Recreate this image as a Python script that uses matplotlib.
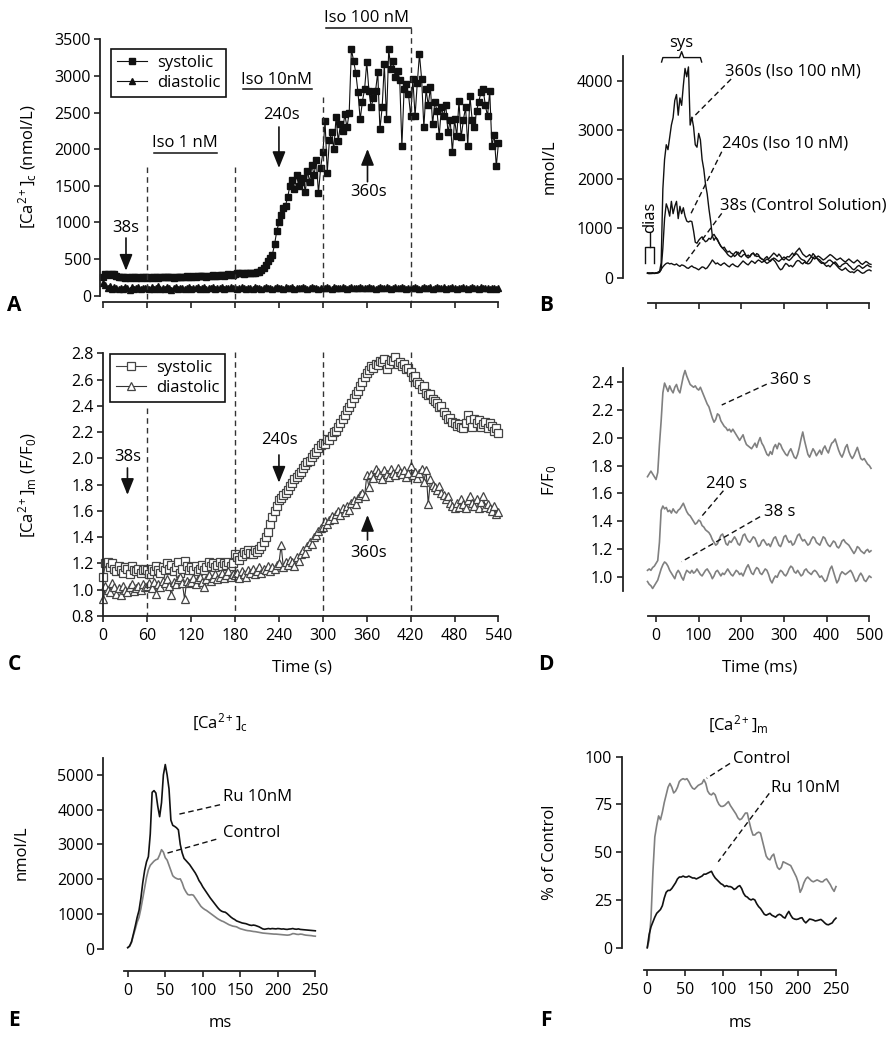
import numpy as np
import matplotlib
matplotlib.use('Agg')
import matplotlib.pyplot as plt

plt.rcParams['font.family'] = ['Open Sans', 'DejaVu Sans']
plt.rcParams['mathtext.fontset'] = 'custom'
plt.rcParams['mathtext.rm'] = 'Open Sans'
plt.rcParams['mathtext.it'] = 'Open Sans:italic'
plt.rcParams['font.size'] = 12

# ---- A: cytosolic Ca, systolic / diastolic, one value every 3 s ----
a_sys = [250, 300, 290, 280, 300, 290, 270, 260, 250, 260, 245, 250, 240, 255, 250, 240, 250, 245, 255, 250,
         245, 250, 240, 255, 250, 245, 250, 255, 250, 260, 250, 255, 245, 260, 255, 250, 260, 255, 265, 260,
         255, 265, 260, 270, 265, 275, 270, 260, 275, 270, 280, 275, 270, 280, 285, 275, 280, 290, 280, 285,
         300, 310, 305, 310, 300, 310, 305, 315, 310, 305, 320, 330, 350, 380, 420, 470, 520, 560, 700, 880,
         1000, 1100, 1200, 1230, 1350, 1500, 1580, 1450, 1650, 1500, 1550, 1600, 1420, 1700, 1550, 1780, 1650, 1850, 1400, 1750,
         1955, 2380, 1680, 2130, 2228, 2000, 2433, 2110, 2338, 2250, 2474, 2297, 2500, 3363, 3204, 3044, 2775, 2406, 2650, 2816,
         3185, 2793, 2570, 2700, 2793, 3049, 2270, 2570, 3158, 2406, 3363, 3090, 3200, 2980, 3067, 2950, 2042, 2816, 2884, 2750,
         2451, 2953, 2451, 2900, 3294, 2953, 2297, 2816, 2600, 2843, 2338, 2650, 2520, 2178, 2570, 2451, 2600, 2228, 2400, 1955,
         2406, 2178, 2657, 2160, 2400, 2570, 2042, 2725, 2400, 2297, 2520, 2650, 2775, 2816, 2600, 2451, 2793, 2042, 2200, 1768, 2091]
a_dia = [180, 150, 110, 130, 90, 120, 100, 85, 110, 95, 120, 100, 80, 115, 95, 105, 120, 90, 100, 110,
         100, 85, 120, 95, 110, 130, 90, 105, 95, 115, 100, 80, 110, 120, 95, 100, 110, 85, 105, 115,
         95, 110, 100, 120, 90, 105, 115, 95, 100, 110, 120, 95, 105, 100, 115, 90, 110, 100, 120, 105,
         110, 95, 105, 120, 100, 90, 110, 105, 95, 115, 100, 110, 95, 105, 120, 100, 110, 90, 105, 115,
         100, 110, 95, 120, 105, 100, 115, 95, 110, 105, 100, 120, 110, 95, 105, 115, 100, 110, 95, 105,
         110, 100, 120, 105, 95, 115, 110, 100, 105, 120, 110, 95, 105, 115, 100, 110, 105, 125, 100, 110,
         105, 115, 100, 110, 95, 105, 120, 110, 100, 115, 105, 95, 110, 120, 105, 100, 115, 110, 95, 105,
         110, 100, 115, 105, 95, 110, 120, 100, 105, 115, 95, 110, 125, 100, 105, 115, 95, 110, 100, 120,
         105, 95, 110, 100, 115, 105, 95, 110, 120, 100, 105, 95, 115, 100, 110, 105, 90, 110, 100, 95, 105]

# ---- C: mitochondrial Ca (F/F0), one value every 3 s ----
c_sys = [1.10, 1.20, 1.21, 1.17, 1.20, 1.16, 1.14, 1.18, 1.15, 1.13, 1.17, 1.16, 1.12, 1.18, 1.15, 1.14, 1.16, 1.13, 1.15, 1.16,
         1.15, 1.12, 1.16, 1.14, 1.18, 1.15, 1.13, 1.17, 1.15, 1.20, 1.16, 1.19, 1.14, 1.17, 1.21, 1.13, 1.16, 1.22, 1.18, 1.15,
         1.17, 1.15, 1.18, 1.14, 1.16, 1.19, 1.15, 1.17, 1.21, 1.18, 1.20, 1.17, 1.19, 1.21, 1.18, 1.20, 1.19, 1.21, 1.18, 1.20,
         1.27, 1.25, 1.23, 1.26, 1.29, 1.27, 1.30, 1.28, 1.27, 1.30, 1.29, 1.31, 1.33, 1.36, 1.40, 1.44, 1.50, 1.55, 1.60, 1.64,
         1.68, 1.70, 1.72, 1.74, 1.76, 1.79, 1.81, 1.84, 1.86, 1.88, 1.90, 1.93, 1.95, 1.97, 1.98, 2.01, 2.03, 2.05, 2.08, 2.10,
         2.12, 2.11, 2.15, 2.14, 2.17, 2.20, 2.21, 2.24, 2.27, 2.30, 2.33, 2.37, 2.39, 2.42, 2.46, 2.49, 2.51, 2.55, 2.58, 2.62,
         2.65, 2.67, 2.70, 2.69, 2.72, 2.71, 2.74, 2.73, 2.76, 2.68, 2.72, 2.75, 2.74, 2.77, 2.72, 2.73, 2.70, 2.72, 2.68, 2.69,
         2.66, 2.62, 2.63, 2.58, 2.57, 2.53, 2.55, 2.50, 2.48, 2.49, 2.45, 2.44, 2.42, 2.39, 2.40, 2.35, 2.33, 2.30, 2.31, 2.28,
         2.27, 2.25, 2.26, 2.24, 2.23, 2.27, 2.33, 2.29, 2.24, 2.30, 2.27, 2.29, 2.24, 2.26, 2.28, 2.23, 2.27, 2.25, 2.21, 2.23, 2.19]
c_dia = [0.93, 1.03, 1.00, 0.98, 1.05, 1.02, 0.97, 1.01, 0.96, 1.03, 1.00, 0.98, 1.02, 1.04, 0.99, 1.01, 1.03, 1.00, 1.04, 1.02,
         1.03, 1.05, 1.01, 1.06, 0.97, 1.04, 1.02, 1.07, 1.05, 1.08, 1.03, 0.96, 1.06, 1.04, 1.08, 1.10, 1.05, 0.93, 1.07, 1.05,
         1.06, 1.09, 1.04, 1.08, 1.10, 1.06, 1.02, 1.08, 1.11, 1.07, 1.09, 1.12, 1.08, 1.10, 1.13, 1.09, 1.11, 1.14, 1.10, 1.12,
         1.11, 1.13, 1.09, 1.14, 1.12, 1.10, 1.15, 1.13, 1.16, 1.12, 1.14, 1.17, 1.13, 1.16, 1.15, 1.18, 1.14, 1.17, 1.16, 1.19,
         1.20, 1.34, 1.17, 1.21, 1.19, 1.23, 1.21, 1.18, 1.25, 1.22, 1.27, 1.30, 1.28, 1.33, 1.36, 1.35, 1.40, 1.42, 1.45, 1.47,
         1.48, 1.52, 1.50, 1.53, 1.56, 1.54, 1.58, 1.60, 1.57, 1.62, 1.59, 1.64, 1.61, 1.66, 1.68, 1.65, 1.70, 1.72, 1.74, 1.71,
         1.87, 1.78, 1.88, 1.85, 1.92, 1.90, 1.87, 1.84, 1.91, 1.88, 1.86, 1.92, 1.89, 1.87, 1.93, 1.90, 1.88, 1.91, 1.86, 1.89,
         1.94, 1.87, 1.90, 1.85, 1.89, 1.92, 1.82, 1.91, 1.65, 1.84, 1.80, 1.78, 1.76, 1.79, 1.74, 1.72, 1.69, 1.71, 1.66, 1.64,
         1.62, 1.66, 1.63, 1.69, 1.65, 1.62, 1.68, 1.71, 1.66, 1.64, 1.69, 1.62, 1.67, 1.71, 1.63, 1.65, 1.62, 1.60, 1.64, 1.58, 1.59]
scan_step = 3
iso_times = [60, 180, 300, 420]

# ---- B: single [Ca]c transients (nmol/L), every 4 ms from -20 ms ----
b_360 = [90, 80, 95, 85, 90, 100, 95, 110, 300, 1800,
         2400, 2700, 2600, 2850, 3100, 3250, 3600, 3720, 3300, 3650,
         3500, 3900, 4250, 4080, 4280, 3100, 3260, 3060, 2700, 2650,
         2930, 2800, 2400, 2200, 1900, 1700, 1400, 1150, 850, 760,
         820, 780, 700, 640, 600, 620, 560, 520, 540, 500,
         480, 430, 460, 520, 480, 540, 560, 500, 430, 460,
         420, 480, 500, 440, 490, 470, 400, 380, 360, 400,
         430, 380, 420, 460, 500, 470, 430, 480, 440, 380,
         360, 400, 430, 420, 460, 500, 450, 490, 470, 420,
         380, 360, 350, 300, 280, 290, 330, 400, 430, 410,
         360, 320, 290, 300, 260, 230, 250, 220, 260, 300,
         280, 240, 200, 170, 150, 170, 200, 160, 130, 110,
         120, 100, 130, 160, 140, 110, 90, 100, 130, 150,
         160, 140]
b_240 = [100, 90, 95, 100, 90, 95, 100, 110, 160, 600,
         1200, 1500, 1400, 1250, 1550, 1300, 1450, 1550, 1200, 1450,
         1300, 1420, 1250, 1150, 1130, 1150, 1140, 950, 720, 700,
         760, 800, 830, 770, 730, 750, 800, 780, 850, 880,
         820, 760, 700, 640, 600, 560, 520, 470, 440, 420,
         450, 500, 530, 480, 440, 420, 460, 480, 430, 400,
         440, 480, 500, 460, 430, 440, 410, 380, 360, 320,
         290, 310, 350, 380, 360, 320, 260, 200, 160, 180,
         240, 290, 270, 230, 250, 220, 260, 320, 350, 340,
         300, 280, 320, 290, 330, 380, 420, 490, 450, 400,
         380, 360, 320, 300, 290, 310, 350, 360, 330, 300,
         320, 280, 230, 220, 260, 280, 300, 290, 250, 220,
         180, 160, 190, 230, 250, 220, 190, 210, 240, 260,
         230, 220]
b_38 = [90, 100, 80, 95, 85, 90, 110, 130, 170, 220,
        260, 290, 300, 280, 290, 270, 260, 280, 250, 230,
        260, 250, 230, 200, 190, 220, 240, 210, 200, 180,
        160, 190, 220, 210, 180, 200, 250, 300, 360, 320,
        280, 300, 270, 250, 280, 300, 270, 240, 220, 260,
        280, 250, 230, 220, 260, 300, 340, 310, 280, 260,
        300, 340, 320, 290, 330, 360, 340, 310, 330, 350,
        380, 360, 330, 370, 400, 380, 350, 330, 360, 390,
        420, 400, 370, 350, 380, 420, 470, 520, 560, 600,
        540, 480, 450, 420, 440, 470, 430, 400, 380, 410,
        440, 420, 390, 360, 380, 410, 440, 470, 450, 420,
        390, 360, 380, 400, 370, 340, 320, 350, 380, 350,
        320, 300, 330, 360, 330, 290, 270, 300, 330, 310,
        280, 270]

# ---- D: single [Ca]m transients (F/F0), every 4 ms from -20 ms ----
d_360 = [1.72, 1.74, 1.76, 1.74, 1.72, 1.70, 1.75, 1.95, 2.12, 2.32,
         2.39, 2.36, 2.33, 2.37, 2.34, 2.32, 2.36, 2.38, 2.34, 2.32,
         2.38, 2.44, 2.48, 2.44, 2.41, 2.38, 2.37, 2.36, 2.37, 2.35,
         2.34, 2.36, 2.33, 2.30, 2.27, 2.24, 2.22, 2.18, 2.14, 2.11,
         2.13, 2.17, 2.16, 2.12, 2.10, 2.08, 2.07, 2.05, 2.06, 2.04,
         2.06, 2.04, 2.02, 2.00, 1.98, 2.00, 2.02, 1.98, 1.95, 1.94,
         1.93, 1.92, 1.94, 1.96, 1.93, 1.97, 2.00, 1.96, 1.94, 1.91,
         1.88, 1.87, 1.90, 1.88, 1.93, 1.95, 1.92, 1.96, 1.95, 1.92,
         1.90, 1.88, 1.87, 1.90, 1.92, 1.89, 1.86, 1.85, 1.88, 1.93,
         1.99, 2.04, 1.98, 1.93, 1.88, 1.86, 1.89, 1.92, 1.90, 1.87,
         1.89, 1.91, 1.88, 1.92, 1.94, 1.91, 1.89, 1.93, 1.96, 1.97,
         1.99, 1.95, 1.91, 1.88, 1.86, 1.89, 1.93, 1.95, 1.90, 1.87,
         1.85, 1.87, 1.90, 1.93, 1.89, 1.85, 1.84, 1.85, 1.83, 1.81,
         1.80, 1.78]
d_240 = [1.05, 1.06, 1.05, 1.07, 1.08, 1.10, 1.12, 1.25, 1.48, 1.51,
         1.49, 1.50, 1.47, 1.48, 1.46, 1.49, 1.47, 1.46, 1.48, 1.49,
         1.51, 1.53, 1.50, 1.47, 1.45, 1.44, 1.42, 1.40, 1.38, 1.39,
         1.41, 1.40, 1.37, 1.36, 1.34, 1.33, 1.32, 1.30, 1.27, 1.25,
         1.23, 1.24, 1.27, 1.30, 1.31, 1.28, 1.24, 1.23, 1.26, 1.25,
         1.27, 1.29, 1.27, 1.24, 1.23, 1.26, 1.30, 1.31, 1.28, 1.26,
         1.25, 1.27, 1.29, 1.28, 1.25, 1.22, 1.23, 1.26, 1.27, 1.25,
         1.23, 1.24, 1.22, 1.25, 1.28, 1.29, 1.26, 1.23, 1.22, 1.25,
         1.29, 1.30, 1.27, 1.25, 1.26, 1.23, 1.24, 1.27, 1.30, 1.31,
         1.28, 1.26, 1.27, 1.25, 1.23, 1.24, 1.27, 1.29, 1.28, 1.25,
         1.24, 1.23, 1.26, 1.29, 1.28, 1.25, 1.23, 1.22, 1.24, 1.26,
         1.25, 1.22, 1.21, 1.23, 1.26, 1.27, 1.25, 1.24, 1.23, 1.21,
         1.19, 1.17, 1.19, 1.22, 1.21, 1.19, 1.18, 1.17, 1.19, 1.20,
         1.18, 1.19]
d_38 = [0.97, 0.95, 0.94, 0.92, 0.94, 0.96, 0.98, 1.02, 1.06, 1.09,
        1.11, 1.10, 1.08, 1.05, 1.03, 1.01, 0.99, 1.03, 1.05, 1.03,
        1.00, 0.98, 1.02, 1.05, 1.04, 1.03, 1.05, 1.03, 1.04, 1.06,
        1.04, 1.02, 1.01, 1.03, 1.05, 1.06, 1.04, 1.02, 0.99, 1.01,
        1.04, 1.05, 1.03, 1.01, 1.03, 1.02, 1.04, 1.06, 1.04, 1.02,
        1.01, 1.03, 1.05, 1.04, 1.02, 1.03, 1.01, 1.04, 1.07, 1.09,
        1.06, 1.03, 1.02, 1.05, 1.07, 1.06, 1.03, 1.02, 1.04, 1.06,
        1.05, 1.02, 0.98, 0.96, 0.99, 1.01, 1.00, 1.03, 1.05, 1.04,
        1.02, 1.01, 1.03, 1.06, 1.08, 1.07, 1.04, 1.03, 1.05, 1.03,
        1.01, 1.02, 1.05, 1.06, 1.04, 1.03, 1.02, 1.04, 1.05, 1.04,
        1.02, 1.00, 1.01, 0.99, 0.97, 0.98, 1.02, 1.06, 1.08, 1.04,
        1.00, 0.96, 0.98, 1.02, 1.04, 1.03, 1.02, 1.03, 1.04, 1.05,
        1.03, 1.00, 0.97, 0.98, 1.01, 1.03, 1.01, 0.98, 0.97, 0.99,
        1.01, 1.00]
trace_start, trace_step = -20, 4

# ---- E: [Ca]c transient, control vs Ru 10nM, every 2.5 ms ----
e_ru = [30, 80, 200, 420, 650, 900, 1100, 1450, 1900, 2250,
        2500, 2650, 3300, 4500, 4550, 4480, 4100, 3800, 4200, 5000,
        5300, 5000, 4600, 3700, 3550, 3520, 3480, 3420, 3000, 2760,
        2600, 2540, 2480, 2420, 2340, 2260, 2180, 2080, 1960, 1880,
        1780, 1700, 1620, 1540, 1460, 1390, 1320, 1250, 1180, 1120,
        1080, 1060, 1050, 1010, 960, 910, 870, 840, 800, 780,
        760, 740, 730, 720, 700, 680, 670, 680, 670, 650,
        630, 600, 570, 560, 570, 580, 570, 580, 575, 570,
        580, 575, 565, 570, 560, 555, 565, 570, 580, 565,
        560, 570, 555, 550, 545, 540, 535, 530, 525, 520,
        515]
e_ctrl = [30, 70, 180, 380, 560, 760, 900, 1150, 1450, 1750,
          2050, 2270, 2400, 2460, 2520, 2560, 2580, 2700, 2850, 2780,
          2620, 2550, 2400, 2250, 2100, 2050, 2020, 2000, 2010, 1900,
          1740, 1640, 1560, 1545, 1555, 1540, 1460, 1380, 1300, 1220,
          1170, 1130, 1100, 1060, 1020, 980, 940, 900, 860, 830,
          800, 780, 750, 720, 690, 670, 650, 640, 630, 600,
          575, 560, 545, 530, 520, 515, 505, 495, 490, 480,
          470, 460, 450, 445, 440, 435, 430, 425, 420, 420,
          415, 410, 405, 400, 395, 390, 395, 410, 435, 430,
          415, 410, 420, 415, 400, 390, 385, 380, 375, 365,
          360]

# ---- F: [Ca]m transient, % of control, every 2.5 ms ----
f_ctrl = [0, 4, 16, 40, 58, 64, 69, 67, 71, 76,
          80, 84, 86, 84, 81, 82, 84, 87, 88, 88.5,
          88, 88.5, 87, 85, 83.5, 83, 84, 85, 85.5, 86,
          88, 86, 82, 80.5, 80, 81, 80, 77, 75, 74,
          74, 74.5, 75.5, 76.5, 74.5, 73, 71.5, 70, 68, 67,
          67.5, 69, 70.5, 70.5, 66, 62, 59, 59, 60, 60.5,
          60, 56, 52, 48, 46.5, 46, 48, 49, 45, 42,
          41, 42, 45, 44.5, 44, 43.5, 43, 41, 39, 37,
          34, 29, 31, 34, 36, 37, 36, 35, 34.5, 35,
          35.5, 35, 34.5, 34.5, 35.5, 36, 34.5, 33, 31, 29.5,
          32]
f_ru = [0, 7, 11, 13.5, 16, 18, 19, 20, 22, 26,
        29, 30, 30, 31, 32.5, 34, 36, 37, 37, 37.5,
        37, 37, 37.5, 37, 36.5, 36.5, 36, 36.5, 37, 37.5,
        38.5, 38.5, 39, 39.5, 40, 38, 36.5, 35.5, 34.5, 33.5,
        33, 32, 32.5, 32, 32, 31.5, 30.5, 31, 32, 32.5,
        31, 28.5, 27, 26.5, 25.5, 25, 25.5, 25, 23, 21.5,
        20.5, 19, 17.5, 17, 17.5, 18, 17, 16.5, 16, 17,
        17.5, 17, 16, 15.5, 17.5, 19, 17, 15.5, 15, 14.8,
        15, 15.5, 15.7, 14, 13, 14, 15, 14.8, 14.5, 14,
        14.2, 14.5, 14.8, 14, 13, 12.2, 12, 12.5, 13, 14.5,
        15.5]
fast_step = 2.5

W, H = 890, 1050
fig = plt.figure(figsize=(W / 100, H / 100), dpi=100)


def box(left, top, right, bottom):
    return [left / W, 1 - bottom / H, (right - left) / W, (bottom - top) / H]


def style(ax, left_out, bottom_out, ybounds, xbounds):
    for s in ['top', 'right']:
        ax.spines[s].set_visible(False)
    for s in ['left', 'bottom']:
        ax.spines[s].set_linewidth(1.3)
        ax.spines[s].set_color('#222222')
    ax.spines['left'].set_position(('outward', left_out * 0.72))
    ax.spines['bottom'].set_position(('outward', bottom_out * 0.72))
    ax.spines['left'].set_bounds(*ybounds)
    ax.spines['bottom'].set_bounds(*xbounds)
    ax.tick_params(direction='out', length=4, width=1.2, color='#222222',
                   labelsize=11.5)
    ax.tick_params(axis='y', pad=2.7)
    ax.tick_params(axis='x', pad=4.5)
    ax.patch.set_alpha(0)


def xs(series, start, step):
    return start + step * np.arange(len(series))


dash_kw = dict(color='#333333', lw=1.0, ls=(0, (4, 3)), clip_on=False)
lead_kw = dict(color='#111111', lw=1.0, ls=(0, (4, 2.5)), clip_on=False)
arrow_kw = dict(arrowstyle='-|>,head_length=0.55,head_width=0.22', color='#111111',
                lw=1.2, mutation_scale=18, shrinkA=0, shrinkB=0)

# ================= A =================
axA = fig.add_axes(box(103.3, 39.3, 498.5, 295.7))
axA.plot(xs(a_sys, 0, scan_step), a_sys, '-s', color='#111111', lw=0.8, ms=4.2,
         mec='#111111', mfc='#111111', clip_on=False, label='systolic')
axA.plot(xs(a_dia, 0, scan_step), a_dia, '-^', color='#111111', lw=0.8, ms=3.8,
         clip_on=False, label='diastolic')
axA.set_xlim(0, 540)
axA.set_ylim(0, 3500)
axA.set_xticks(range(0, 541, 60))
axA.set_xticklabels([])
axA.set_yticks(range(0, 3501, 500))
style(axA, 3, 6.3, (0, 3500), (0, 540))
for t, top in zip(iso_times, [1761, 1761, 2708, 3650]):
    axA.plot([t, t], [top, -86], **dash_kw)
axA.legend(loc='upper left', bbox_to_anchor=(111 / W, 1 - 49 / H),
           bbox_transform=fig.transFigure, borderaxespad=0, fancybox=False,
           edgecolor='#111111', framealpha=1, handlelength=1.8, handletextpad=0.6,
           labelspacing=0.25, borderpad=0.35, fontsize=12).get_frame().set_linewidth(1.2)
for txt, x, y, x0, x1 in [('Iso 1 nM', 112, 2080, 69, 155),
                          ('Iso 10nM', 237, 2945, 191, 285),
                          ('Iso 100 nM', 360, 3787, 304, 420)]:
    axA.text(x, y, txt, ha='center', va='center', fontsize=12)
    axA.plot([x0, x1], [y - 130, y - 130], color='#111111', lw=1.1, clip_on=False)
axA.text(31, 928, '38s', ha='center', va='center', fontsize=12)
axA.annotate('', xy=(31, 341), xytext=(31, 788), arrowprops=arrow_kw)
axA.text(243, 2467, '240s', ha='center', va='center', fontsize=12)
axA.annotate('', xy=(240, 1743), xytext=(240, 2303), arrowprops=arrow_kw)
axA.text(363, 1420, '360s', ha='center', va='center', fontsize=12)
axA.annotate('', xy=(361, 2003), xytext=(361, 1556), arrowprops=arrow_kw)

# ================= C =================
axC = fig.add_axes(box(103.3, 353.3, 498.5, 616))
axC.plot(xs(c_sys, 0, scan_step), c_sys, '-s', color='#444444', lw=0.8, ms=5.8,
         mfc='white', mec='#444444', mew=0.9, clip_on=False, label='systolic')
axC.plot(xs(c_dia, 0, scan_step), c_dia, '-^', color='#333333', lw=0.8, ms=5.2,
         mfc='white', mec='#444444', mew=0.9, clip_on=False, label='diastolic')
axC.set_xlim(0, 540)
axC.set_ylim(0.8, 2.8)
axC.set_xticks(range(0, 541, 60))
axC.set_yticks(np.arange(0.8, 2.81, 0.2))
axC.set_yticklabels(['%.1f' % v for v in np.arange(0.8, 2.81, 0.2)])
style(axC, 0, 0, (0.8, 2.8), (0, 540))
for t, top in zip(iso_times, [2.38, 2.81, 2.81, 2.81]):
    axC.plot([t, t], [top, 0.8], **dash_kw)
axC.legend(loc='upper left', bbox_to_anchor=(110 / W, 1 - 354 / H),
           bbox_transform=fig.transFigure, borderaxespad=0, fancybox=False,
           edgecolor='#111111', framealpha=1, handlelength=1.8, handletextpad=0.6,
           labelspacing=0.25, borderpad=0.35, fontsize=12).get_frame().set_linewidth(1.2)
axC.text(33, 2.013, '38s', ha='center', va='center', fontsize=12)
axC.annotate('', xy=(33, 1.722), xytext=(33, 1.927), arrowprops=arrow_kw)
axC.text(241, 2.14, '240s', ha='center', va='center', fontsize=12)
axC.annotate('', xy=(240, 1.815), xytext=(240, 2.026), arrowprops=arrow_kw)
axC.text(363, 1.278, '360s', ha='center', va='center', fontsize=12)
axC.annotate('', xy=(361, 1.569), xytext=(361, 1.379), arrowprops=arrow_kw)

# ================= B =================
axB = fig.add_axes(box(647.5, 56.1, 869.3, 277.7))
for s in [b_38, b_240, b_360]:
    axB.plot(xs(s, trace_start, trace_step), s, color='#111111', lw=1.0, clip_on=False)
axB.set_xlim(-20, 500)
axB.set_ylim(0, 4500)
axB.set_xticks(range(0, 501, 100))
axB.set_xticklabels([])
axB.set_yticks(range(0, 4001, 1000))
style(axB, 24.8, 25, (0, 4500), (-20, 500))
axB.plot([13, 16, 55, 60, 65, 104, 107], [4380, 4470, 4470, 4590, 4470, 4470, 4380],
         color='#111111', lw=1.0, clip_on=False)
axB.text(60, 4771, 'sys', ha='center', va='center', fontsize=12)
axB.plot([-25.8, -25.8, -4.7, -4.7], [292, 629, 629, 292], color='#111111', lw=1.0, clip_on=False)
axB.plot([-15, -15], [629, 900], color='#111111', lw=1.0, clip_on=False)
axB.text(-14, 900, 'dias', rotation=90, ha='center', va='bottom', fontsize=12)
axB.text(162, 4196, '360s (Iso 100 nM)', ha='left', va='center', fontsize=12)
axB.plot([176, 83], [4034, 3222], **lead_kw)
axB.text(154, 2728, '240s (Iso 10 nM)', ha='left', va='center', fontsize=12)
axB.plot([154, 80], [2558, 1270], **lead_kw)
axB.text(150, 1476, '38s (Control Solution)', ha='left', va='center', fontsize=12)
axB.plot([154, 70], [1306, 325], **lead_kw)

# ================= D =================
axD = fig.add_axes(box(647.5, 367.7, 869.3, 591.3))
for s in [d_38, d_240, d_360]:
    axD.plot(xs(s, trace_start, trace_step), s, color='#808080', lw=1.2, clip_on=False)
axD.set_xlim(-20, 500)
axD.set_ylim(0.9, 2.5)
axD.set_xticks(range(0, 501, 100))
axD.set_yticks(np.arange(1.0, 2.41, 0.2))
axD.set_yticklabels(['%.1f' % v for v in np.arange(1.0, 2.41, 0.2)])
style(axD, 24.8, 24.4, (0.9, 2.5), (-20, 500))
axD.text(267, 2.41, '360 s', ha='left', va='center', fontsize=12)
axD.plot([259.5, 154], [2.382, 2.233], **lead_kw)
axD.text(166, 1.668, '240 s', ha='center', va='center', fontsize=12)
axD.plot([158, 103], [1.62, 1.422], **lead_kw)
axD.text(252, 1.47, '38 s', ha='left', va='center', fontsize=12)
axD.plot([244, 60], [1.434, 1.112], **lead_kw)

# ================= E =================
axE = fig.add_axes(box(124, 757.6, 315.3, 948.7))
axE.plot(xs(e_ctrl, 0, fast_step), e_ctrl, color='#808080', lw=1.2, clip_on=False)
axE.plot(xs(e_ru, 0, fast_step), e_ru, color='#111111', lw=1.2, clip_on=False)
axE.set_xlim(-5, 250)
axE.set_ylim(0, 5500)
axE.set_xticks(range(0, 251, 50))
axE.set_yticks(range(0, 5001, 1000))
style(axE, 20.7, 22, (0, 5500), (-5, 250))
axE.text(127, 4376, 'Ru 10nM', ha='left', va='center', fontsize=12)
axE.plot([123, 65], [4143, 3855], **lead_kw)
axE.text(127, 3322, 'Control', ha='left', va='center', fontsize=12)
axE.plot([118, 52], [3150, 2747], **lead_kw)

# ================= F =================
axF = fig.add_axes(box(643.5, 756.7, 836, 947.7))
axF.plot(xs(f_ctrl, 0, fast_step), f_ctrl, color='#808080', lw=1.2, clip_on=False)
axF.plot(xs(f_ru, 0, fast_step), f_ru, color='#111111', lw=1.2, clip_on=False)
axF.set_xlim(-5, 250)
axF.set_ylim(0, 100)
axF.set_xticks(range(0, 251, 50))
axF.set_yticks(range(0, 101, 25))
style(axF, 21.8, 22.3, (0, 100), (-5, 250))
axF.text(113, 98.6, 'Control', ha='left', va='center', fontsize=12)
axF.plot([109.6, 78.7], [96.5, 88.7], **lead_kw)
axF.text(163.5, 83.8, 'Ru 10nM', ha='left', va='center', fontsize=12)
axF.plot([161.6, 94], [80.8, 45], **lead_kw)


# ---- axis labels, titles and panel letters ----
def ftext(x, y, s, **kw):
    kw.setdefault('fontsize', 12)
    fig.text(x / W, 1 - y / H, s, ha='center', va='center', **kw)


ftext(28, 167, r'[Ca$^\mathregular{2+}$]$_\mathregular{c}$ (nmol/L)', rotation=90)
ftext(28, 485, r'[Ca$^\mathregular{2+}$]$_\mathregular{m}$ (F/F$_\mathregular{0}$)', rotation=90)
ftext(550, 167, 'nmol/L', rotation=90)
ftext(550, 480, r'F/F$_\mathregular{0}$', rotation=90)
ftext(22, 853, 'nmol/L', rotation=90)
ftext(550, 852, '% of Control', rotation=90)
ftext(302, 668, 'Time (s)')
ftext(760, 668, 'Time (ms)')
ftext(220, 1023, 'ms')
ftext(740, 1023, 'ms')
ftext(220, 723, r'[Ca$^\mathregular{2+}$]$_\mathregular{c}$')
ftext(738, 725, r'[Ca$^\mathregular{2+}$]$_\mathregular{m}$')
for letter, x, y in [('A', 14, 306), ('B', 546, 306), ('C', 14, 665),
                     ('D', 546, 665), ('E', 14, 1020), ('F', 546, 1020)]:
    ftext(x, y, letter, fontsize=15, fontweight='bold')

fig.savefig('out.png', dpi=100)
